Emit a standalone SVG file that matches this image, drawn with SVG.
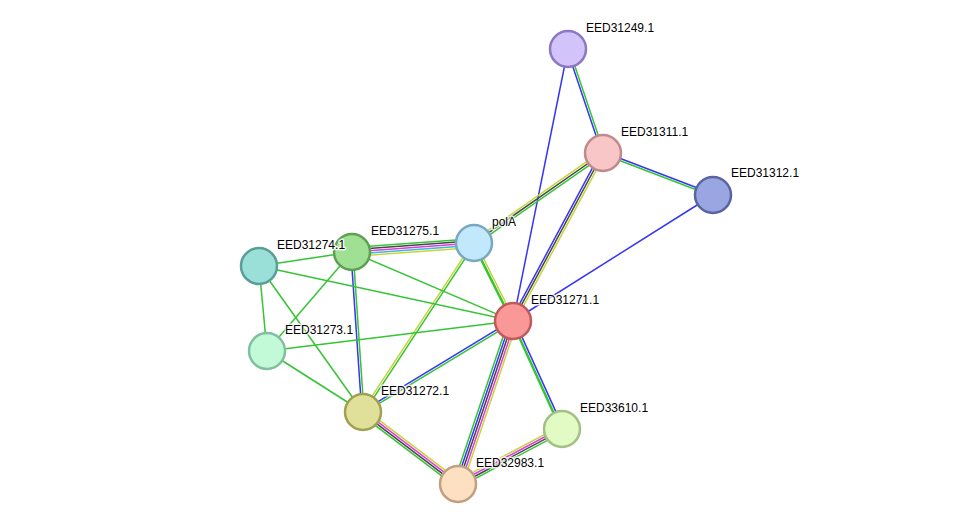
<svg xmlns="http://www.w3.org/2000/svg" width="976" height="530" viewBox="0 0 976 530">
<style>
line{stroke-width:1.5;fill:none}
.g{stroke:#35c435}.b{stroke:#3535f5}.y{stroke:#c6d43a}.k{stroke:#474747}.m{stroke:#dd3ddd}.c{stroke:#3cb9dc}
.n{stroke-width:2.5}
text{font-family:"Liberation Sans",Arial,sans-serif;font-size:12px;fill:#000;stroke:#fff;stroke-width:3;stroke-opacity:0.8;paint-order:stroke;stroke-linejoin:round}
</style>
<rect width="976" height="530" fill="#fff"/>
<g id="connectors">
<g transform="translate(568,49) rotate(71.4)"><line class="b" x1="0" y1="1.1" x2="109.7" y2="1.1"/><line class="g" x1="0" y1="-1.1" x2="109.7" y2="-1.1"/></g>
<g transform="translate(568,49) rotate(101.4)"><line class="b" x1="0" y1="0" x2="277.5" y2="0"/></g>
<g transform="translate(603,153) rotate(20.9)"><line class="b" x1="0" y1="-1.1" x2="117.7" y2="-1.1"/><line class="g" x1="0" y1="1.1" x2="117.7" y2="1.1"/></g>
<g transform="translate(603,153) rotate(145.1)"><line class="y" x1="0" y1="2.2" x2="157.3" y2="2.2"/><line class="k" x1="0" y1="0" x2="157.3" y2="0"/><line class="g" x1="0" y1="-2.2" x2="157.3" y2="-2.2"/></g>
<g transform="translate(603,153) rotate(118.2)"><line class="b" x1="0" y1="2.2" x2="190.6" y2="2.2"/><line class="k" x1="0" y1="0" x2="190.6" y2="0"/><line class="y" x1="0" y1="-2.2" x2="190.6" y2="-2.2"/></g>
<line class="b" x1="713" y1="195" x2="513" y2="321"/>
<g transform="translate(352,252) rotate(-4.2)"><line class="g" x1="0" y1="-4.4" x2="122.3" y2="-4.4"/><line class="k" x1="0" y1="-2.2" x2="122.3" y2="-2.2"/><line class="m" x1="0" y1="0" x2="122.3" y2="0"/><line class="c" x1="0" y1="2.2" x2="122.3" y2="2.2"/><line class="y" x1="0" y1="4.4" x2="122.3" y2="4.4"/></g>
<g transform="translate(474,243) rotate(63.4)"><line class="g" x1="0" y1="1" x2="87.2" y2="1" style="stroke-width:2.5"/><line class="y" x1="0" y1="-1.6" x2="87.2" y2="-1.6"/></g>
<g transform="translate(474,243) rotate(123.3)"><line class="y" x1="0" y1="1.1" x2="202.2" y2="1.1"/><line class="g" x1="0" y1="-1.1" x2="202.2" y2="-1.1"/></g>
<g transform="translate(352,252) rotate(86.1)"><line class="b" x1="0" y1="1.1" x2="160.4" y2="1.1"/><line class="g" x1="0" y1="-1.1" x2="160.4" y2="-1.1"/></g>
<g transform="translate(363,412) rotate(-31.2)"><line class="g" x1="0" y1="1.1" x2="175.4" y2="1.1"/><line class="b" x1="0" y1="-1.1" x2="175.4" y2="-1.1"/></g>
<g transform="translate(363,412) rotate(37.2)"><line class="g" x1="0" y1="3.3" x2="119.2" y2="3.3"/><line class="k" x1="0" y1="1.1" x2="119.2" y2="1.1"/><line class="m" x1="0" y1="-1.1" x2="119.2" y2="-1.1"/><line class="y" x1="0" y1="-3.3" x2="119.2" y2="-3.3"/></g>
<g transform="translate(513,321) rotate(108.6)"><line class="g" x1="0" y1="4.4" x2="172" y2="4.4"/><line class="b" x1="0" y1="2.2" x2="172" y2="2.2"/><line class="k" x1="0" y1="0" x2="172" y2="0"/><line class="m" x1="0" y1="-2.2" x2="172" y2="-2.2"/><line class="y" x1="0" y1="-4.4" x2="172" y2="-4.4"/></g>
<g transform="translate(513,321) rotate(65.6)"><line class="g" x1="0" y1="1" x2="118.6" y2="1" style="stroke-width:2.5"/><line class="b" x1="0" y1="-1.6" x2="118.6" y2="-1.6"/></g>
<g transform="translate(458,484) rotate(-27.9)"><line class="g" x1="0" y1="3.3" x2="117.6" y2="3.3"/><line class="k" x1="0" y1="1.1" x2="117.6" y2="1.1"/><line class="m" x1="0" y1="-1.1" x2="117.6" y2="-1.1"/><line class="y" x1="0" y1="-3.3" x2="117.6" y2="-3.3"/></g>
<line class="g" x1="352" y1="252" x2="259" y2="266"/>
<line class="g" x1="352" y1="252" x2="267" y2="351"/>
<line class="g" x1="352" y1="252" x2="513" y2="321"/>
<line class="g" x1="259" y1="266" x2="513" y2="321"/>
<line class="g" x1="259" y1="266" x2="267" y2="351"/>
<line class="g" x1="259" y1="266" x2="363" y2="412"/>
<line class="g" x1="267" y1="351" x2="513" y2="321"/>
<line class="g" x1="267" y1="351" x2="363" y2="412"/>
</g>
<g id="EED31249.1"><circle class="n" cx="568" cy="49" r="18" fill="#d2c4fb" stroke="#8c78c0"/><text x="586" y="32">EED31249.1</text></g>
<g id="EED31311.1"><circle class="n" cx="603" cy="153" r="18" fill="#f8c6c6" stroke="#c08a8a"/><text x="621" y="136">EED31311.1</text></g>
<g id="EED31312.1"><circle class="n" cx="713" cy="195" r="18" fill="#9aa6e2" stroke="#5a64a0"/><text x="731" y="177">EED31312.1</text></g>
<g id="polA"><circle class="n" cx="474" cy="243" r="18" fill="#c2e8fb" stroke="#7aa8c2"/><text x="492" y="226">polA</text></g>
<g id="EED31275.1"><circle class="n" cx="352" cy="252" r="18" fill="#a0e094" stroke="#5ea052"/><text x="371" y="235">EED31275.1</text></g>
<g id="EED31274.1"><circle class="n" cx="259" cy="266" r="18" fill="#9ae0d8" stroke="#5a9e98"/><text x="277" y="249">EED31274.1</text></g>
<g id="EED31273.1"><circle class="n" cx="267" cy="351" r="18" fill="#c2fad8" stroke="#80c0a0"/><text x="285" y="334">EED31273.1</text></g>
<g id="EED31271.1"><circle class="n" cx="513" cy="321" r="18" fill="#fa9898" stroke="#c05a5a"/><text x="531" y="304">EED31271.1</text></g>
<g id="EED31272.1"><circle class="n" cx="363" cy="412" r="18" fill="#e0e09a" stroke="#a0a052"/><text x="381" y="395">EED31272.1</text></g>
<g id="EED33610.1"><circle class="n" cx="562" cy="429" r="18" fill="#e2fac4" stroke="#a2c084"/><text x="580" y="412">EED33610.1</text></g>
<g id="EED32983.1"><circle class="n" cx="458" cy="484" r="18" fill="#fde0c2" stroke="#c0a080"/><text x="476" y="467">EED32983.1</text></g>
</svg>
